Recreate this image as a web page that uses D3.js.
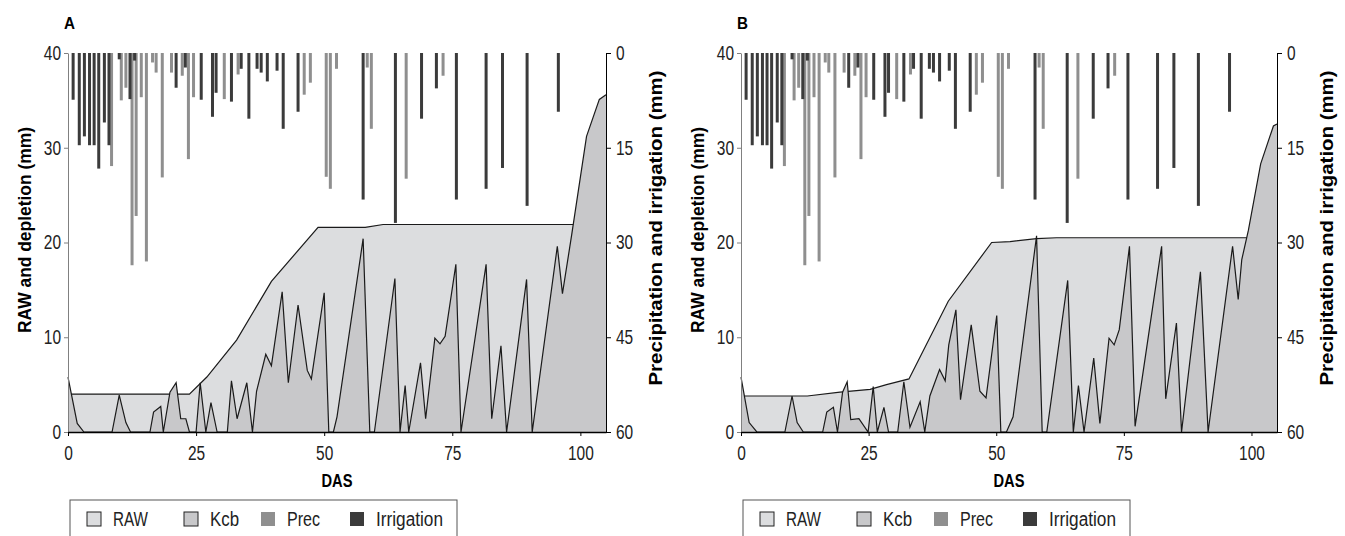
<!DOCTYPE html>
<html>
<head>
<meta charset="utf-8">
<script src="https://cdn.jsdelivr.net/npm/d3@7"></script>
<style>
  html, body { margin: 0; padding: 0; background: #fff; }
  svg { display: block; }
  text { font-family: "Liberation Sans", Arial, sans-serif; }
</style>
</head>
<body>
<svg id="chart" width="1345" height="536"></svg>
<script>
// ---------------- DATA ----------------
const panelLabels = ["A", "B"];
const xTicks = [0, 25, 50, 75, 100];
const yLeftTicks = [0, 10, 20, 30, 40];
const yRightTicks = [0, 15, 30, 45, 60];
const legendLabels = ["RAW", "Kcb", "Prec", "Irrigation"];

// Precipitation bars (day, mm) - same for both panels
const precDays   = [8.5, 10.4, 11.3, 12.5, 13.3, 14.3, 15.3, 16.5, 17.2, 18.4, 20.2, 22.3, 23.5, 24.5, 30.5, 33.2, 46.1, 47.3, 50.4, 51.2, 52.4, 58.4, 59.2, 66.0, 73.2];
const precValues = [17.9, 7.5, 5.5, 33.6, 25.8, 7.0, 33.0, 1.5, 3.1, 19.7, 3.1, 3.6, 16.8, 7.0, 7.3, 3.4, 6.6, 4.7, 19.6, 21.5, 2.5, 2.3, 12.0, 19.9, 3.6];

// Irrigation bars (day, mm)
const irrDays   = [1.0, 2.2, 3.2, 4.2, 5.1, 6.0, 7.1, 8.0, 10.0, 12.1, 13.0, 21.1, 22.9, 26.0, 28.2, 28.9, 31.9, 33.8, 35.3, 36.9, 37.7, 38.9, 40.8, 42.0, 44.9, 57.6, 63.9, 69.0, 71.9, 75.8, 81.6, 84.8, 89.6, 95.7];
const irrValues = [7.4, 14.6, 13.2, 14.6, 14.6, 18.3, 11.0, 14.6, 1.0, 7.3, 1.2, 5.5, 2.3, 7.4, 10.1, 6.3, 7.7, 2.5, 10.4, 2.5, 3.1, 4.5, 2.8, 12.0, 9.3, 23.2, 26.9, 10.4, 5.6, 23.2, 21.5, 18.2, 24.2, 9.3];

// Panel A: RAW (readily available water) line
const rawDaysA   = [0, 23.7, 27.1, 32.9, 39.7, 48.8, 58.0, 61.5, 105];
const rawValuesA = [4.0, 4.0, 5.8, 9.7, 15.9, 21.6, 21.6, 21.9, 21.9];

// Panel A: depletion (Kcb) line
const depDaysA   = [0, 1.8, 3.1, 8.6, 10.0, 11.3, 12.2, 16.0, 16.7, 18.1, 18.6, 19.9, 21.1, 22.0, 23.0, 23.7, 25.0, 25.8, 26.9, 27.9, 29.1, 31.1, 31.9, 33.0, 34.9, 36.0, 36.8, 38.6, 39.7, 41.8, 43.0, 44.9, 46.7, 47.5, 50.0, 50.9, 51.8, 52.5, 57.6, 58.9, 59.8, 63.8, 64.8, 65.8, 66.5, 68.8, 69.8, 71.6, 72.6, 73.6, 75.7, 76.7, 81.6, 82.7, 84.5, 85.6, 89.5, 90.6, 95.5, 96.5, 98.3, 101.2, 103.7, 105];
const depValuesA = [5.8, 0.9, 0, 0, 3.9, 1.0, 0, 0, 2.1, 2.7, 0, 4.2, 5.2, 1.4, 1.4, 0, 0, 5.2, 0, 3.1, 0, 0, 5.4, 1.4, 5.2, 0, 4.3, 8.2, 7.0, 14.8, 5.2, 13.4, 6.5, 5.6, 14.7, 0, 0, 1.6, 20.4, 0, 0, 16.2, 0, 4.9, 0, 7.3, 1.4, 9.9, 9.3, 10.1, 17.7, 0, 17.7, 1.4, 9.1, 0, 16.1, 0, 19.6, 14.6, 20.8, 31.2, 35.1, 35.6];

// Panel B: RAW line
const rawDaysB   = [0, 13.0, 19.4, 25.3, 28.5, 32.9, 40.6, 49.1, 52.7, 57.9, 61.8, 105];
const rawValuesB = [3.8, 3.8, 4.2, 4.5, 5.0, 5.6, 13.8, 20.0, 20.1, 20.4, 20.5, 20.5];

// Panel B: depletion (Kcb) line
const depDaysB   = [0, 1.6, 3.1, 8.6, 10.0, 11.0, 12.2, 16.0, 16.8, 18.1, 18.9, 19.9, 20.8, 21.5, 23.1, 24.9, 25.9, 26.7, 28.0, 28.9, 30.7, 31.9, 33.1, 35.1, 36.0, 37.0, 38.9, 40.0, 40.7, 42.1, 43.0, 45.1, 46.8, 48.0, 50.1, 50.9, 52.0, 53.3, 57.9, 59.0, 59.9, 64.0, 65.1, 66.1, 67.2, 69.1, 70.3, 72.1, 73.1, 74.1, 76.1, 77.2, 82.4, 83.2, 85.3, 86.3, 90.0, 91.5, 96.3, 97.4, 98.1, 99.4, 101.8, 104.3, 105];
const depValuesB = [5.8, 1.0, 0, 0, 3.8, 1.0, 0, 0, 2.1, 2.6, 0, 4.2, 5.3, 1.3, 1.4, 0, 4.8, 0, 2.6, 0, 0, 5.3, 0.5, 3.2, 0, 3.8, 6.6, 5.4, 9.2, 12.9, 3.4, 11.3, 4.3, 3.6, 12.3, 0, 0, 1.6, 20.7, 0, 0, 16.0, 0, 4.9, 0, 7.8, 0.9, 9.9, 9.2, 10.8, 19.6, 0.6, 19.6, 3.5, 11.5, 0, 16.9, 0, 19.6, 14.0, 18.2, 21.3, 28.3, 32.3, 32.5];

// ---------------- DRAWING ----------------
const svg = d3.select("#chart");
const colors = { raw: "#dcdddf", kcb: "#c8c8ca", prec: "#8f8f8f", irr: "#3b3b3b" };

const panels = [
  { label: panelLabels[0], x0: 68,  x1: 606,  raw: [rawDaysA, rawValuesA], dep: [depDaysA, depValuesA] },
  { label: panelLabels[1], x0: 741, x1: 1277, raw: [rawDaysB, rawValuesB], dep: [depDaysB, depValuesB] }
];
const yTop = 53, yBot = 432;

function zip(a, b) { return a.map((d, i) => [d, b[i]]); }
function narrow(sel) {
  sel.each(function() {
    const t = d3.select(this);
    t.attr("textLength", t.text().length * 8.6).attr("lengthAdjust", "spacingAndGlyphs");
  });
}

panels.forEach(p => {
  const g = svg.append("g");
  const x = d3.scaleLinear().domain([0, 105]).range([p.x0, p.x1]);
  const yL = d3.scaleLinear().domain([0, 40]).range([yBot, yTop]);
  const yR = d3.scaleLinear().domain([0, 60]).range([yTop, yBot]);

  // bars
  const barW = 3;
  g.append("g").selectAll("rect").data(zip(precDays, precValues)).join("rect")
    .attr("x", d => x(d[0]) - barW / 2).attr("y", yR(0))
    .attr("width", barW).attr("height", d => yR(d[1]) - yR(0))
    .attr("fill", colors.prec);
  g.append("g").selectAll("rect").data(zip(irrDays, irrValues)).join("rect")
    .attr("x", d => x(d[0]) - barW / 2).attr("y", yR(0))
    .attr("width", barW).attr("height", d => yR(d[1]) - yR(0))
    .attr("fill", colors.irr);

  // areas
  const area = d3.area().x(d => x(d[0])).y0(yL(0)).y1(d => yL(d[1]));
  const line = d3.line().x(d => x(d[0])).y(d => yL(d[1]));
  const rawData = zip(p.raw[0], p.raw[1]);
  const depData = zip(p.dep[0], p.dep[1]);
  g.append("path").datum(rawData).attr("d", area).attr("fill", colors.raw);
  g.append("path").datum(rawData).attr("d", line).attr("fill", "none").attr("stroke", "#1a1a1a").attr("stroke-width", 1.2);
  g.append("path").datum(depData).attr("d", area).attr("fill", colors.kcb);
  g.append("path").datum(depData).attr("d", line).attr("fill", "none").attr("stroke", "#1a1a1a").attr("stroke-width", 1.2).attr("stroke-linejoin", "miter");

  // axes
  const fs = "20px";
  const ax1 = g.append("g").attr("transform", `translate(${p.x0},0)`)
    .call(d3.axisLeft(yL).tickValues(yLeftTicks).tickSize(4).tickSizeOuter(0).tickPadding(3));
  ax1.select(".domain").attr("stroke", "#808080");
  ax1.selectAll(".tick line").attr("stroke", "#808080");
  ax1.selectAll("text").style("font-size", fs).attr("fill", "#222").call(narrow);

  const ax2 = g.append("g").attr("transform", `translate(${p.x1},0)`)
    .call(d3.axisRight(yR).tickValues(yRightTicks).tickSize(5).tickSizeOuter(0).tickPadding(5));
  ax2.selectAll("text").style("font-size", fs).attr("fill", "#222").call(narrow);

  const ax3 = g.append("g").attr("transform", `translate(0,${yBot})`)
    .call(d3.axisBottom(x).tickValues(xTicks).tickSize(4).tickSizeOuter(0).tickPadding(10));
  ax3.select(".domain").attr("stroke-width", 1.5);
  ax3.selectAll("text").style("font-size", fs).attr("fill", "#222").call(narrow);

  // titles
  g.append("text").attr("x", p.x0 - 4).attr("y", 29).text(p.label)
    .attr("textLength", 11).attr("lengthAdjust", "spacingAndGlyphs")
    .style("font-size", "17px").style("font-weight", "bold");
  g.append("text").attr("transform", `translate(${p.x0 - 37},${230}) rotate(-90)`)
    .attr("text-anchor", "middle").text("RAW and depletion (mm)")
    .attr("textLength", 206).attr("lengthAdjust", "spacingAndGlyphs")
    .style("font-size", "18px").style("font-weight", "bold");
  g.append("text").attr("transform", `translate(${p.x1 + 56},${228}) rotate(-90)`)
    .attr("text-anchor", "middle").text("Precipitation and irrigation (mm)")
    .attr("textLength", 315).attr("lengthAdjust", "spacingAndGlyphs")
    .style("font-size", "18px").style("font-weight", "bold");
  g.append("text").attr("x", (p.x0 + p.x1) / 2).attr("y", 487).attr("text-anchor", "middle")
    .text("DAS").attr("textLength", 31).attr("lengthAdjust", "spacingAndGlyphs")
    .style("font-size", "19px").style("font-weight", "bold");

  // legend
  const lg = g.append("g").attr("transform", `translate(${p.x0 + 2},500)`);
  lg.append("rect").attr("x", 0).attr("y", 0).attr("width", 387).attr("height", 40)
    .attr("fill", "none").attr("stroke", "#555").attr("stroke-width", 1);
  const itemX = [17, 114, 191, 280];
  const textW = [35, 29, 33, 67];
  const fills = [colors.raw, colors.kcb, colors.prec, colors.irr];
  legendLabels.forEach((t, i) => {
    const r = lg.append("rect").attr("x", itemX[i]).attr("y", 12).attr("width", 14).attr("height", 14)
      .attr("fill", fills[i]);
    if (i < 2) r.attr("stroke", "#222").attr("stroke-width", 1);
    lg.append("text").attr("x", itemX[i] + 26).attr("y", 26).text(t)
      .attr("textLength", textW[i]).attr("lengthAdjust", "spacingAndGlyphs")
      .style("font-size", "20px").attr("fill", "#222");
  });
});
</script>
</body>
</html>
